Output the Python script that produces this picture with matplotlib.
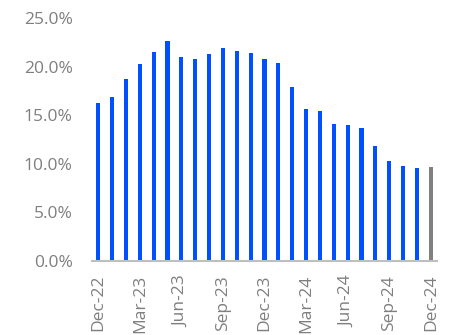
import numpy as np
import matplotlib.pyplot as plt
from matplotlib.ticker import FuncFormatter

plt.rcParams['font.family'] = ['Open Sans', 'DejaVu Sans']

months = ['Dec-22', 'Jan-23', 'Feb-23', 'Mar-23', 'Apr-23', 'May-23', 'Jun-23',
          'Jul-23', 'Aug-23', 'Sep-23', 'Oct-23', 'Nov-23', 'Dec-23', 'Jan-24',
          'Feb-24', 'Mar-24', 'Apr-24', 'May-24', 'Jun-24', 'Jul-24', 'Aug-24',
          'Sep-24', 'Oct-24', 'Nov-24', 'Dec-24']
values = [16.3, 16.9, 18.75, 20.3, 21.5, 22.6, 21.0, 20.8, 21.3, 21.9, 21.6, 21.4,
          20.8, 20.4, 17.9, 15.6, 15.4, 14.1, 14.0, 13.7, 11.8, 10.3, 9.8, 9.6, 9.7]

blue = '#0050FF'
grey = '#808080'
colors = [blue] * (len(values) - 1) + [grey]

fig = plt.figure(figsize=(4.49, 3.35), dpi=100)
ax = fig.add_axes([92 / 449, 74 / 335, 345 / 449, 243 / 335])

x = np.arange(len(values))
ax.bar(x, values, width=0.3, color=colors)

ax.set_xlim(-0.45, len(values) - 0.55)
ax.set_ylim(0, 25)
ax.set_yticks(np.arange(0, 26, 5))
ax.yaxis.set_major_formatter(FuncFormatter(lambda v, p: f'{v:.1f}%'))
ax.set_xticks(x[::3])
ax.set_xticklabels(months[::3], rotation=90)

for s in ['top', 'right', 'left']:
    ax.spines[s].set_visible(False)
ax.spines['bottom'].set_color('#BFBFBF')
ax.spines['bottom'].set_linewidth(1.5)
ax.tick_params(axis='both', length=0, labelsize=12.5, colors='#7F7F7F')
ax.tick_params(axis='y', pad=14)
ax.tick_params(axis='x', pad=10)

fig.savefig('out.png', dpi=100)
